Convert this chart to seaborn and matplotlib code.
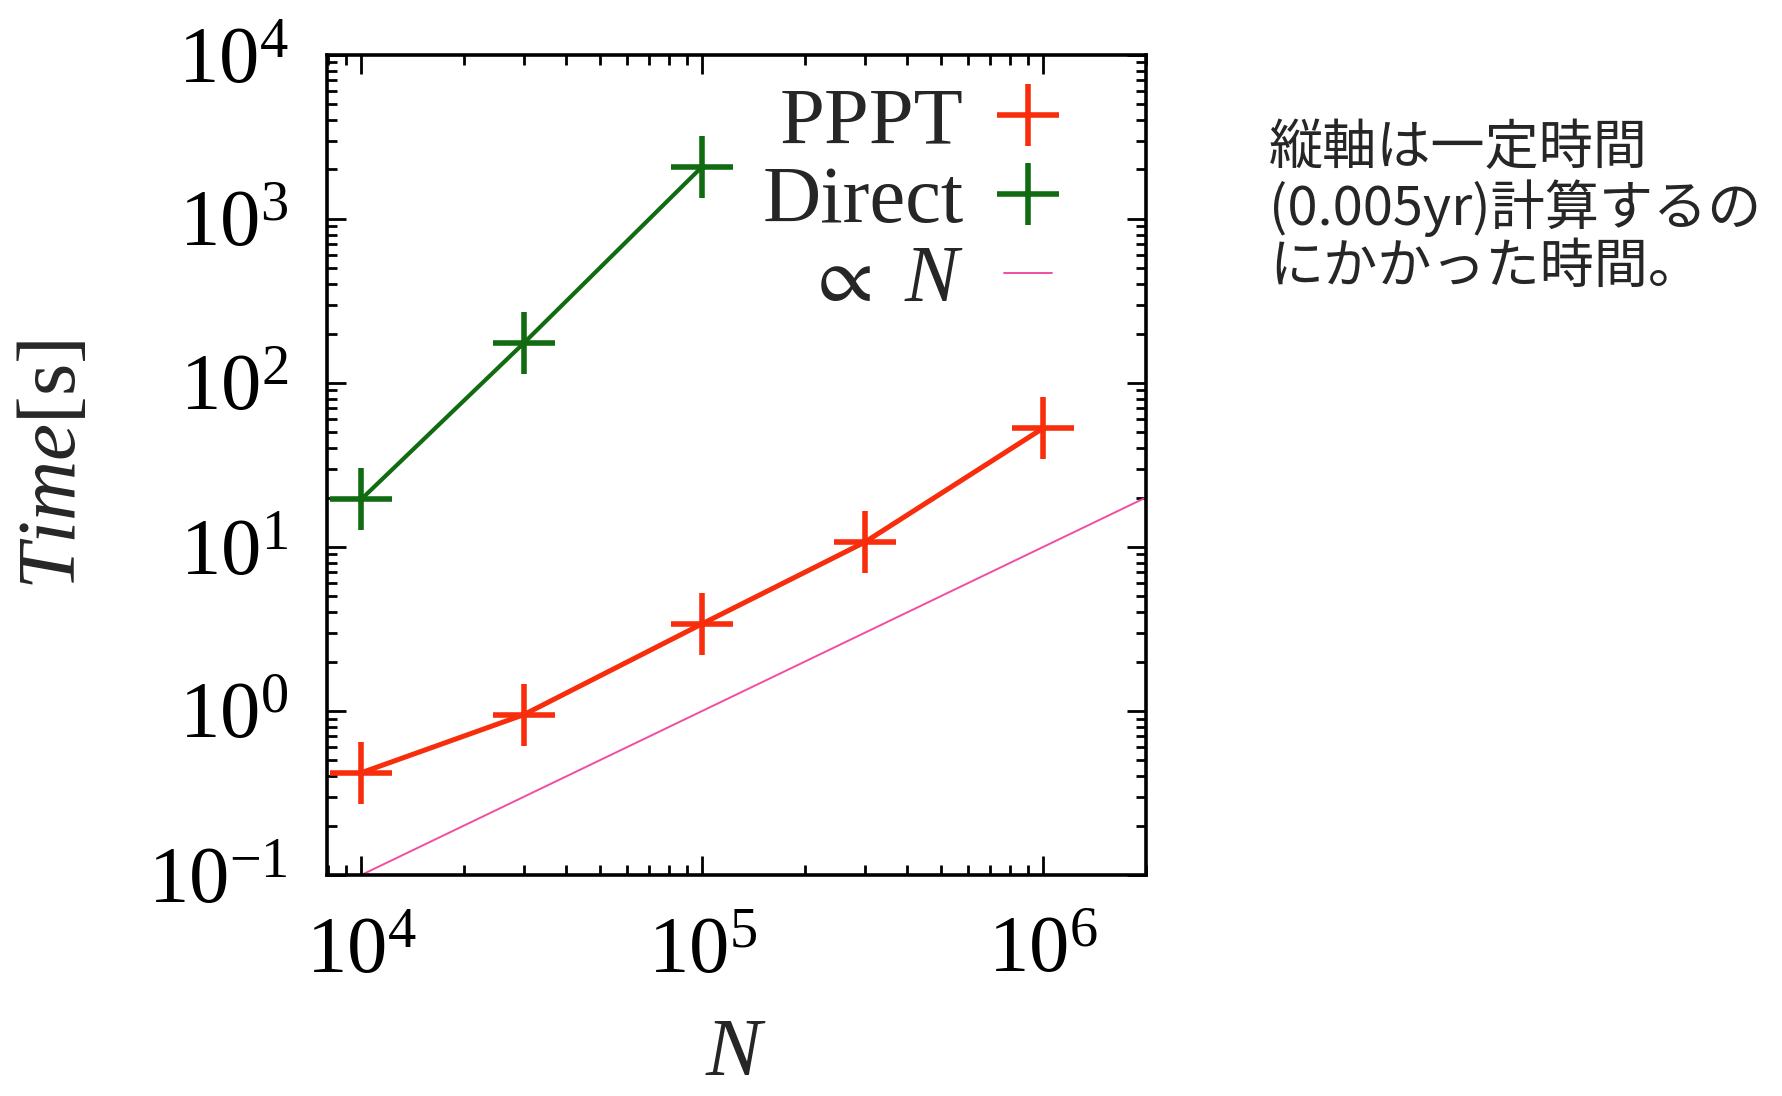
import numpy as np
import pandas as pd
import matplotlib
matplotlib.use("Agg")
import matplotlib.pyplot as plt
from matplotlib.lines import Line2D
import seaborn as sns

# data
n_pppt = [1e4, 3e4, 1e5, 3e5, 1e6]
t_pppt = [0.42, 0.95, 3.4, 10.7, 53]
n_direct = [1e4, 3e4, 1e5]
t_direct = [19.5, 175, 2080]
n_ref = [7.9e3, 2.0e6]
ref_coef = 1e-5   # the "∝ N" guide line: t = 1e-5 * N

x_ticks = [1e4, 1e5, 1e6]
y_ticks = [1e-1, 1e0, 1e1, 1e2, 1e3, 1e4]
note = "縦軸は一定時間\n(0.005yr)計算するの\nにかかった時間。"

c_pppt = "#f72d0c"
c_direct = "#116b10"
c_ref = "#f24da1"

sns.set_style("ticks")
plt.rcParams["font.family"] = ["Liberation Serif", "DejaVu Serif"]
plt.rcParams["mathtext.fontset"] = "custom"
plt.rcParams["mathtext.rm"] = "Liberation Serif"
plt.rcParams["mathtext.it"] = "Liberation Serif:italic"
plt.rcParams["mathtext.fallback"] = "stix"

pppt = pd.DataFrame({"N": n_pppt, "t": t_pppt})
direct = pd.DataFrame({"N": n_direct, "t": t_direct})
ref = pd.DataFrame({"N": n_ref, "t": [ref_coef * v for v in n_ref]})

fig = plt.figure(figsize=(17.82, 10.96), dpi=100)
ax = fig.add_axes([0.1835, 0.2016, 0.4595, 0.7484])

ms, mw = 44, 4.0
sns.lineplot(data=ref, x="N", y="t", color=c_ref, lw=1.4, ax=ax, legend=False)
for d, c, w in [(pppt, c_pppt, 3.6), (direct, c_direct, 3.0)]:
    sns.lineplot(data=d, x="N", y="t", color=c, marker="+", markersize=ms, mew=mw,
                 mec=c, lw=w, ax=ax, legend=False, estimator=None)

ax.set_xscale("log")
ax.set_yscale("log")
ax.set_xlim(7.94e3, 2.0e6)
ax.set_ylim(1e-1, 1e4)
ax.set_xticks(x_ticks)
ax.set_yticks(y_ticks)
ax.set_xticklabels([r"$10^{%d}$" % round(np.log10(v)) for v in x_ticks])
ax.set_yticklabels([r"$10^{%d}$" % round(np.log10(v)) for v in y_ticks])

ax.tick_params(which="both", direction="in", top=True, right=True, labelsize=58,
               width=2, colors="black")
ax.tick_params(which="major", length=14)
ax.tick_params(axis="x", which="major", pad=30)
ax.tick_params(axis="y", which="major", pad=28)
ax.tick_params(which="minor", length=7)
for s in ax.spines.values():
    s.set_linewidth(2.6)
    s.set_color("black")

ax.set_xlabel(r"$\mathit{N}$", fontsize=60, labelpad=20)
ax.set_ylabel(r"$\mathit{Time}$[s]", fontsize=60, labelpad=40)

handles = [
    Line2D([], [], color=c_pppt, marker="+", ls="none", markersize=ms, mew=mw),
    Line2D([], [], color=c_direct, marker="+", ls="none", markersize=ms, mew=mw),
    Line2D([], [], color=c_ref, lw=1.4),
]
ax.legend(handles, ["PPPT", "Direct", r"$\propto$ $\mathit{N}$"], loc="upper right",
          frameon=False, markerfirst=False, fontsize=58, handlelength=0.6,
          handletextpad=0.5, labelspacing=0.07, borderaxespad=0.0,
          bbox_to_anchor=(0.925, 1.0))

fig.text(0.712, 0.89, note, fontsize=39, va="top", ha="left", linespacing=1.08,
         family=["Noto Sans CJK JP", "DejaVu Sans"])

fig.savefig("out.png", dpi=100)
